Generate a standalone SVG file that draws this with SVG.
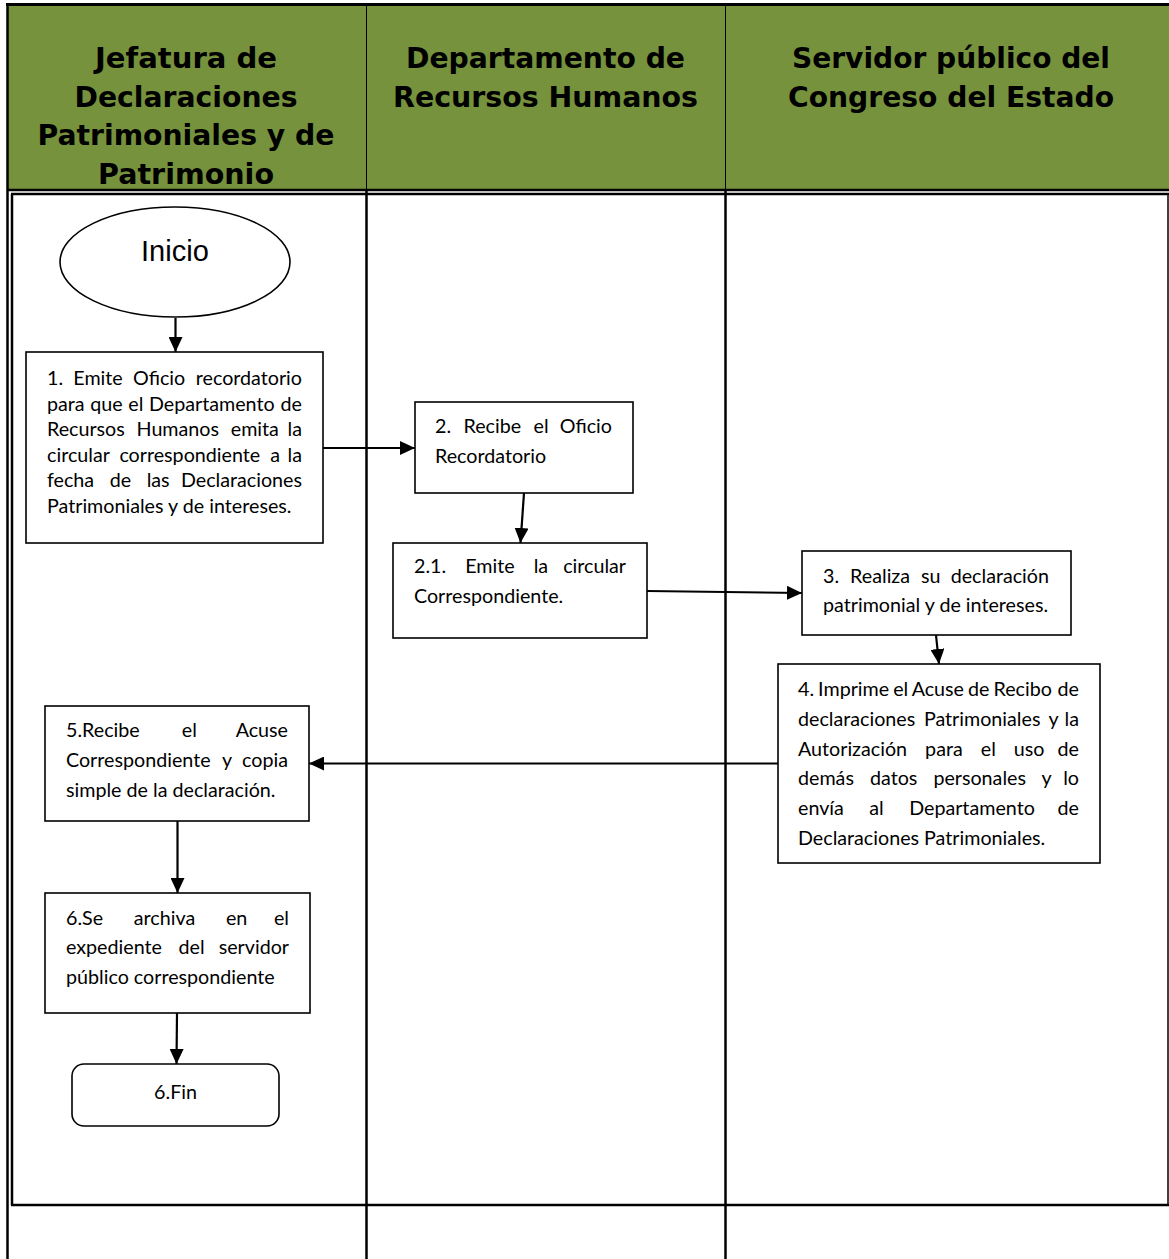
<svg xmlns="http://www.w3.org/2000/svg" width="1169" height="1259" viewBox="0 0 1169 1259">
<defs>
<style>
.hdr{font-family:"DejaVu Sans",Verdana,sans-serif;font-weight:bold;font-size:29px;fill:#000}
.t{font-family:Lato,"Liberation Sans",sans-serif;font-size:19.7px;fill:#000}
.e{text-anchor:end}
.box{fill:#fff;stroke:#000;stroke-width:1.6}
.ln{fill:none;stroke:#000}
.conn{fill:none;stroke:#000;stroke-width:2.2}
</style>
<marker id="ah" markerUnits="userSpaceOnUse" markerWidth="15" markerHeight="14" refX="15" refY="7" orient="auto">
<path d="M0,0 L15,7 L0,14 z" fill="#000"/>
</marker>
</defs>
<rect width="1169" height="1259" fill="#fff"/>
<g id="lanes">
<rect x="7" y="4" width="1162" height="186" fill="#76923C"/>
<line class="ln" x1="6" y1="4.5" x2="1169" y2="4.5" stroke-width="3"/>
<line class="ln" x1="7.5" y1="4" x2="7.5" y2="1259" stroke-width="2.5"/>
<line class="ln" x1="366.5" y1="4" x2="366.5" y2="190" stroke-width="1" stroke="#333"/>
<line class="ln" x1="725.5" y1="4" x2="725.5" y2="190" stroke-width="1" stroke="#555"/>
<line class="ln" x1="7" y1="190" x2="1169" y2="190" stroke-width="2.5"/>
<line class="ln" x1="11" y1="194" x2="1169" y2="194" stroke-width="2.5"/>
<line class="ln" x1="12" y1="194" x2="12" y2="1205" stroke-width="2.5"/>
<line class="ln" x1="1168" y1="194" x2="1168" y2="1205" stroke-width="1.5"/>
<line class="ln" x1="11" y1="1205" x2="1169" y2="1205" stroke-width="2.5"/>
<line class="ln" x1="366.5" y1="190" x2="366.5" y2="1259" stroke-width="2.5"/>
<line class="ln" x1="725.5" y1="190" x2="725.5" y2="1259" stroke-width="2.5"/>
<text class="hdr" x="186" y="68" text-anchor="middle" textLength="182" lengthAdjust="spacingAndGlyphs">Jefatura de</text>
<text class="hdr" x="186" y="107" text-anchor="middle" textLength="223" lengthAdjust="spacingAndGlyphs">Declaraciones</text>
<text class="hdr" x="186" y="145" text-anchor="middle" textLength="297" lengthAdjust="spacingAndGlyphs">Patrimoniales y de</text>
<text class="hdr" x="186" y="184" text-anchor="middle" textLength="176" lengthAdjust="spacingAndGlyphs">Patrimonio</text>
<text class="hdr" x="545.5" y="68" text-anchor="middle" textLength="279" lengthAdjust="spacingAndGlyphs">Departamento de</text>
<text class="hdr" x="545.5" y="107" text-anchor="middle" textLength="305" lengthAdjust="spacingAndGlyphs">Recursos Humanos</text>
<text class="hdr" x="951" y="68" text-anchor="middle" textLength="318" lengthAdjust="spacingAndGlyphs">Servidor público del</text>
<text class="hdr" x="951" y="107" text-anchor="middle" textLength="326" lengthAdjust="spacingAndGlyphs">Congreso del Estado</text>
</g>
<g id="connectors">
<line class="conn" x1="175.5" y1="318" x2="175.5" y2="352" marker-end="url(#ah)"/>
<line class="conn" x1="323" y1="448" x2="415" y2="448" marker-end="url(#ah)"/>
<line class="conn" x1="524" y1="493" x2="520.5" y2="543" marker-end="url(#ah)"/>
<line class="conn" x1="647" y1="591" x2="802" y2="593" marker-end="url(#ah)"/>
<line class="conn" x1="936" y1="635" x2="939" y2="664" marker-end="url(#ah)"/>
<line class="conn" x1="778" y1="763.5" x2="309" y2="763.5" marker-end="url(#ah)"/>
<line class="conn" x1="177.5" y1="821" x2="177.5" y2="893" marker-end="url(#ah)"/>
<line class="conn" x1="177" y1="1013" x2="176.5" y2="1064" marker-end="url(#ah)"/>
</g>
<g id="inicio">
<ellipse cx="175" cy="262" rx="115" ry="55" fill="#fff" stroke="#000" stroke-width="1.6"/>
<text x="175" y="261" text-anchor="middle" font-family="'Liberation Sans',Arial,sans-serif" font-size="29" textLength="68">Inicio</text>
</g>
<g id="n1">
<rect class="box" x="26" y="352" width="297" height="191"/>
<text class="t" x="47" y="385" word-spacing="5.2">1. Emite Oficio</text><text class="t e" x="302" y="385">recordatorio</text>
<text class="t" x="47" y="410.6" word-spacing="0.6">para que el Departamento</text><text class="t e" x="302" y="410.6">de</text>
<text class="t" x="47" y="436.2" word-spacing="6.7">Recursos Humanos emita</text><text class="t e" x="302" y="436.2">la</text>
<text class="t" x="47" y="461.8" word-spacing="4.9">circular correspondiente a</text><text class="t e" x="302" y="461.8">la</text>
<text class="t" x="47" y="487.4" word-spacing="10.5">fecha de las</text><text class="t e" x="302" y="487.4">Declaraciones</text>
<text class="t" x="47" y="513">Patrimoniales y de intereses.</text>
</g>
<g id="n2">
<rect class="box" x="415" y="402" width="218" height="91"/>
<text class="t" x="435" y="433" word-spacing="7.4">2. Recibe el</text><text class="t e" x="612" y="433">Oficio</text>
<text class="t" x="435" y="463">Recordatorio</text>
</g>
<g id="n2_1">
<rect class="box" x="393" y="543" width="254" height="95"/>
<text class="t" x="414" y="573" word-spacing="14">2.1. Emite la</text><text class="t e" x="626" y="573">circular</text>
<text class="t" x="414" y="603">Correspondiente.</text>
</g>
<g id="n3">
<rect class="box" x="802" y="551" width="269" height="84"/>
<text class="t" x="823" y="583" word-spacing="6">3. Realiza su</text><text class="t e" x="1049" y="583">declaración</text>
<text class="t" x="823" y="612">patrimonial y de intereses.</text>
</g>
<g id="n4">
<rect class="box" x="778" y="664" width="322" height="199"/>
<text class="t" x="798" y="696" word-spacing="-1">4. Imprime el Acuse de Recibo</text><text class="t e" x="1079" y="696">de</text>
<text class="t" x="798" y="725.8" word-spacing="3.6">declaraciones Patrimoniales y</text><text class="t e" x="1079" y="725.8">la</text>
<text class="t" x="798" y="755.6" word-spacing="13">Autorización para el uso</text><text class="t e" x="1079" y="755.6">de</text>
<text class="t" x="798" y="785.4" word-spacing="11">demás datos personales y</text><text class="t e" x="1079" y="785.4">lo</text>
<text class="t" x="798" y="815.2" word-spacing="20.4">envía al Departamento</text><text class="t e" x="1079" y="815.2">de</text>
<text class="t" x="798" y="845">Declaraciones Patrimoniales.</text>
</g>
<g id="n5">
<rect class="box" x="45" y="706" width="264" height="115"/>
<text class="t" x="66" y="737" word-spacing="37">5.Recibe el</text><text class="t e" x="288" y="737">Acuse</text>
<text class="t" x="66" y="767" word-spacing="6.9">Correspondiente y</text><text class="t e" x="288" y="767">copia</text>
<text class="t" x="66" y="797">simple de la declaración.</text>
</g>
<g id="n6">
<rect class="box" x="45" y="893" width="265" height="120"/>
<text class="t" x="66" y="925" word-spacing="25.7">6.Se archiva en</text><text class="t e" x="289" y="925">el</text>
<text class="t" x="66" y="954" word-spacing="11.6">expediente del</text><text class="t e" x="289" y="954">servidor</text>
<text class="t" x="66" y="984">público correspondiente</text>
</g>
<g id="fin">
<rect class="box" x="72" y="1064" width="207" height="62" rx="12" ry="12"/>
<text class="t" x="175.5" y="1099" text-anchor="middle">6.Fin</text>
</g>
</svg>
